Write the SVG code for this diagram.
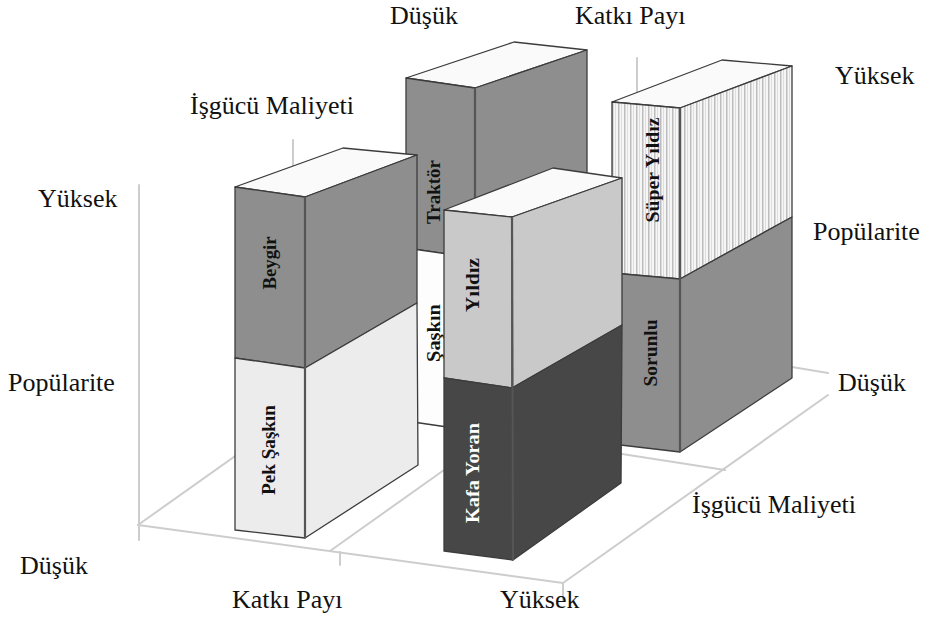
<svg xmlns="http://www.w3.org/2000/svg" width="926" height="617" viewBox="0 0 926 617">
<defs>
<pattern id="stripes" patternUnits="userSpaceOnUse" width="6" height="10">
<rect width="6" height="10" fill="#f6f6f6"/>
<rect x="0" width="1.5" height="10" fill="#bdbdbd"/>
<rect x="3" width="1" height="10" fill="#dedede"/>
</pattern>
</defs>
<style>
.ax{stroke:#cdcdcd;stroke-width:2;fill:none;stroke-linecap:round}
.f{stroke:#3c3c3c;stroke-width:1.3;stroke-linejoin:round}
.top{fill:#fafafa}
.mid{fill:#8e8e8e}
.lt{fill:#ececec}
.wh{fill:#fdfdfd}
.yl{fill:#c9c9c9}
.dk{fill:#474747}
.st{fill:url(#stripes)}
.edge{stroke:#555;stroke-width:2.2;fill:none}
.lbl{font-family:"Liberation Serif","Times New Roman",serif;font-size:26px;fill:#111}
.bl{font-family:"Liberation Serif","Times New Roman",serif;font-size:19px;font-weight:bold;fill:#111;text-anchor:middle}
</style>
<g id="axes">
<line class="ax" x1="139" y1="185" x2="139" y2="540"/>
<line class="ax" x1="138" y1="525" x2="563" y2="583"/>
<line class="ax" x1="563" y1="583" x2="828" y2="395"/>
<line class="ax" x1="138" y1="525" x2="300" y2="410"/>
<line class="ax" x1="330" y1="551" x2="520" y2="416"/>
<line class="ax" x1="302" y1="404" x2="725" y2="470"/>
<line class="ax" x1="600" y1="335" x2="828" y2="373"/>
<line class="ax" x1="340" y1="552" x2="340" y2="565"/>
<line class="ax" x1="563" y1="583" x2="563" y2="600"/>
<line class="ax" x1="293" y1="140" x2="293" y2="300"/>
<line class="ax" x1="637" y1="58" x2="637" y2="200"/>
</g>
<g id="node-traktor-saskin">
<polygon class="f top" points="406,78 514,42 587,50 475,88"/>
<polygon class="f mid" points="475,88 587,50 587,200 475,258"/>
<polygon class="f wh" points="475,258 587,200 587,360 475,431"/>
<polygon class="f mid" points="406,78 475,88 475,258 406,248"/>
<polygon class="f wh" points="406,248 475,258 475,431 406,421"/>
<line class="edge" x1="475" y1="88" x2="475" y2="431"/>
<text class="bl" transform="translate(433,192) rotate(-90)" dy="0.35em" textLength="64" lengthAdjust="spacingAndGlyphs">Traktör</text>
<text class="bl" transform="translate(433,333) rotate(-90)" dy="0.35em" textLength="58" lengthAdjust="spacingAndGlyphs">Şaşkın</text>
</g>
<g id="node-super-yildiz-sorunlu">
<polygon class="f top" points="612,102 722,60 792,66 680,108"/>
<polygon class="f st" points="680,108 792,66 792,217 680,279"/>
<polygon class="f mid" points="680,279 792,217 792,378 680,452"/>
<polygon class="f st" points="612,102 680,108 680,279 612,273"/>
<polygon class="f mid" points="612,273 680,279 680,452 612,444"/>
<line class="edge" x1="680" y1="108" x2="680" y2="452"/>
<text class="bl" transform="translate(652,170) rotate(-90)" dy="0.35em" textLength="105" lengthAdjust="spacingAndGlyphs">Süper Yıldız</text>
<text class="bl" transform="translate(650,353) rotate(-90)" dy="0.35em" textLength="67" lengthAdjust="spacingAndGlyphs">Sorunlu</text>
</g>
<g id="node-beygir-pek-saskin">
<polygon class="f top" points="235,187 343,148 417,155 305,197"/>
<polygon class="f mid" points="305,197 417,155 417,303 305,368"/>
<polygon class="f lt" points="305,368 417,303 418,465 305,538"/>
<polygon class="f mid" points="235,187 305,197 305,368 235,358"/>
<polygon class="f lt" points="235,358 305,368 305,538 235,530"/>
<line class="edge" x1="305" y1="197" x2="305" y2="538"/>
<text class="bl" transform="translate(269,263) rotate(-90)" dy="0.35em" textLength="53" lengthAdjust="spacingAndGlyphs">Beygir</text>
<text class="bl" transform="translate(268,450) rotate(-90)" dy="0.35em" textLength="90" lengthAdjust="spacingAndGlyphs">Pek Şaşkın</text>
</g>
<g id="node-yildiz-kafa-yoran">
<polygon class="f top" points="444,210 553,168 622,178 512,217"/>
<polygon class="f yl" points="512,217 622,178 622,325 512,388"/>
<polygon class="f dk" points="512,388 622,325 621,483 513,560"/>
<polygon class="f yl" points="444,210 512,217 512,388 444,378"/>
<polygon class="f dk" points="444,378 512,388 513,560 444,551"/>
<line class="edge" x1="512" y1="217" x2="513" y2="560"/>
<text class="bl" transform="translate(472,285) rotate(-90)" dy="0.35em" textLength="54" lengthAdjust="spacingAndGlyphs">Yıldız</text>
<text class="bl" transform="translate(472,473) rotate(-90)" dy="0.35em" textLength="100" lengthAdjust="spacingAndGlyphs" style="fill:#fff">Kafa Yoran</text>
</g>
<g id="labels">
<text class="lbl" x="390" y="24">Düşük</text>
<text class="lbl" x="575" y="24">Katkı Payı</text>
<text class="lbl" x="835" y="84">Yüksek</text>
<text class="lbl" x="190" y="114">İşgücü Maliyeti</text>
<text class="lbl" x="38" y="207">Yüksek</text>
<text class="lbl" x="813" y="240">Popülarite</text>
<text class="lbl" x="8" y="391">Popülarite</text>
<text class="lbl" x="838" y="391">Düşük</text>
<text class="lbl" x="692" y="513">İşgücü Maliyeti</text>
<text class="lbl" x="20" y="574">Düşük</text>
<text class="lbl" x="232" y="608">Katkı Payı</text>
<text class="lbl" x="500" y="608">Yüksek</text>
</g>
</svg>
